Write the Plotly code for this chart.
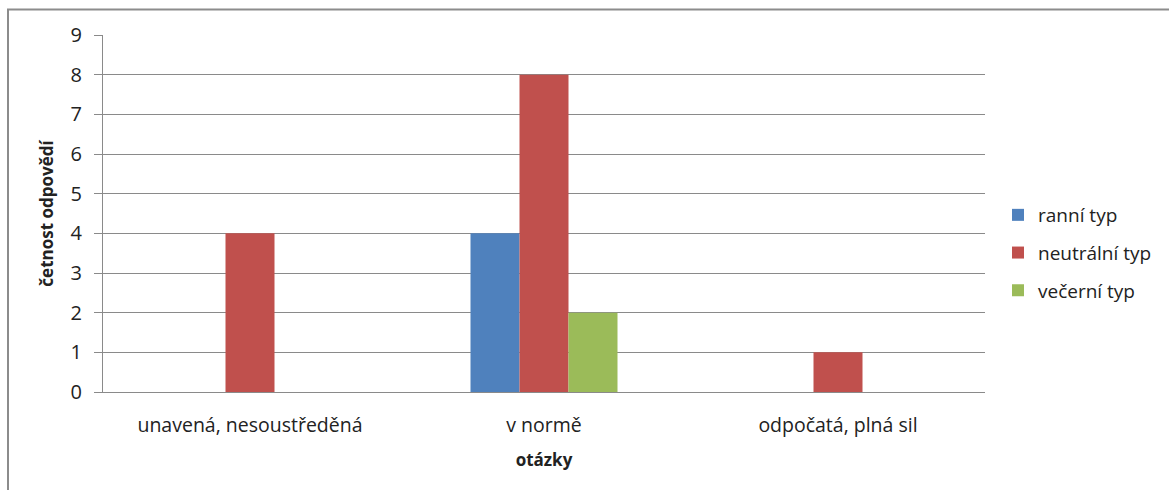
import plotly.graph_objects as go

categories = ["unavená, nesoustředěná", "v normě", "odpočatá, plná sil"]
ranni = [0, 4, 0]
neutralni = [4, 8, 1]
vecerni = [0, 2, 0]
series_names = ["ranní typ", "neutrální typ", "večerní typ"]
colors = ["#4F81BD", "#C0504D", "#9BBB59"]
y_ticks = list(range(0, 10))

FONT = "Open Sans"
fig = go.Figure()
for name, vals, col in zip(series_names, [ranni, neutralni, vecerni], colors):
    fig.add_trace(go.Bar(name=name, x=categories, y=vals, legendgroup=name,
                         marker=dict(color=col, line=dict(width=0))))

L, R, T, B = 103, 985, 35, 392
W, H = 1169, 490
pw, ph = R - L, B - T

fig.update_layout(
    width=W, height=H,
    margin=dict(l=L, r=W - R, t=T, b=H - B, autoexpand=False),
    barmode="group", bargap=0.5, bargroupgap=0,
    plot_bgcolor="white", paper_bgcolor="white",
    font=dict(family=FONT, size=19, color="#222222"),
    legend=dict(x=(998 - L) / pw, y=(B - 196) / ph, xanchor="left", yanchor="top",
                font=dict(size=19, family=FONT), itemsizing="constant", tracegroupgap=10,
                traceorder="grouped",
                bgcolor="rgba(0,0,0,0)", itemwidth=30),
    showlegend=True,
)
fig.update_yaxes(range=[0, 9], tickvals=y_ticks, showgrid=True, gridcolor="#8a8a8a", gridwidth=1,
                 showline=True, linecolor="#8a8a8a", linewidth=1, ticks="outside", ticklen=8,
                 tickcolor="#8a8a8a", tickfont=dict(size=20, family=FONT), zeroline=False,
                 ticklabelstandoff=8,
                 title=dict(text="<b>četnost odpovědí</b>", font=dict(size=17, family=FONT), standoff=12))
fig.update_xaxes(showline=True, linecolor="#8a8a8a", linewidth=1, ticks="", showgrid=False,
                 tickfont=dict(size=19.5, family=FONT), ticklabelstandoff=16,
                 title=dict(text="<b>otázky</b>", font=dict(size=17, family=FONT), standoff=16))

# outer chart frame (top and left visible)
fig.add_shape(type="rect", xref="paper", yref="paper",
              x0=(8 - L) / pw, x1=(1200 - L) / pw, y0=(B - 520) / ph, y1=(B - 9.5) / ph,
              line=dict(color="#8c8c8c", width=2), fillcolor="rgba(0,0,0,0)", layer="below")

fig.write_html("out.html")
